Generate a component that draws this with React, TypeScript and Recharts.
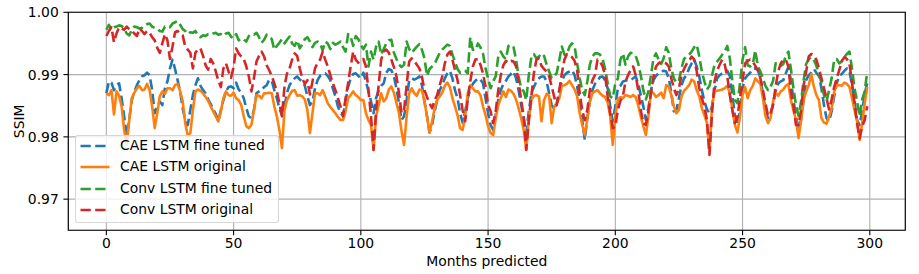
import React from 'react';
import { LineChart, Line, XAxis, YAxis, CartesianGrid, ReferenceArea, Legend } from 'recharts';

// SSIM per predicted month (index = month 0..299)
const caeFineTuned = [
  0.9870,0.9889,0.9887,0.9875,0.9883,0.9886,0.9862,0.9833,0.9801,0.9827,
  0.9859,0.9873,0.9883,0.9891,0.9897,0.9899,0.9903,0.9899,0.9875,0.9838,
  0.9849,0.9857,0.9851,0.9878,0.9889,0.9910,0.9924,0.9909,0.9891,0.9873,
  0.9846,0.9827,0.9819,0.9843,0.9867,0.9883,0.9894,0.9882,0.9875,0.9870,
  0.9860,0.9853,0.9844,0.9837,0.9825,0.9843,0.9859,0.9873,0.9880,0.9881,
  0.9878,0.9887,0.9876,0.9871,0.9862,0.9846,0.9833,0.9830,0.9843,0.9870,
  0.9873,0.9875,0.9880,0.9883,0.9892,0.9890,0.9875,0.9862,0.9846,0.9835,
  0.9849,0.9871,0.9883,0.9890,0.9894,0.9897,0.9892,0.9889,0.9882,0.9865,
  0.9851,0.9857,0.9878,0.9891,0.9898,0.9901,0.9902,0.9898,0.9891,0.9878,
  0.9865,0.9849,0.9838,0.9834,0.9857,0.9880,0.9894,0.9901,0.9902,0.9898,
  0.9894,0.9903,0.9889,0.9873,0.9857,0.9838,0.9862,0.9875,0.9882,0.9886,
  0.9903,0.9909,0.9907,0.9897,0.9878,0.9854,0.9827,0.9833,0.9859,0.9891,
  0.9894,0.9892,0.9894,0.9897,0.9883,0.9857,0.9833,0.9807,0.9819,0.9841,
  0.9859,0.9875,0.9883,0.9894,0.9902,0.9906,0.9894,0.9875,0.9862,0.9838,
  0.9823,0.9841,0.9862,0.9876,0.9885,0.9890,0.9894,0.9892,0.9886,0.9862,
  0.9838,0.9819,0.9811,0.9835,0.9860,0.9875,0.9885,0.9890,0.9897,0.9901,
  0.9905,0.9894,0.9875,0.9851,0.9830,0.9806,0.9841,0.9870,0.9880,0.9889,
  0.9894,0.9897,0.9897,0.9889,0.9870,0.9851,0.9844,0.9854,0.9875,0.9889,
  0.9899,0.9903,0.9905,0.9907,0.9899,0.9881,0.9857,0.9827,0.9795,0.9830,
  0.9857,0.9875,0.9885,0.9890,0.9896,0.9897,0.9891,0.9878,0.9849,0.9825,
  0.9849,0.9878,0.9882,0.9889,0.9890,0.9891,0.9891,0.9894,0.9897,0.9885,
  0.9867,0.9849,0.9827,0.9846,0.9875,0.9891,0.9898,0.9902,0.9905,0.9906,
  0.9905,0.9894,0.9871,0.9841,0.9843,0.9862,0.9883,0.9894,0.9899,0.9910,
  0.9918,0.9924,0.9913,0.9897,0.9875,0.9857,0.9844,0.9838,0.9849,0.9875,
  0.9894,0.9899,0.9902,0.9905,0.9906,0.9898,0.9867,0.9833,0.9819,0.9843,
  0.9878,0.9894,0.9899,0.9903,0.9909,0.9910,0.9907,0.9894,0.9870,0.9843,
  0.9830,0.9835,0.9854,0.9873,0.9886,0.9889,0.9891,0.9902,0.9912,0.9891,
  0.9859,0.9833,0.9814,0.9827,0.9859,0.9891,0.9899,0.9903,0.9909,0.9903,
  0.9898,0.9878,0.9851,0.9830,0.9825,0.9841,0.9865,0.9886,0.9898,0.9901,
  0.9906,0.9910,0.9906,0.9883,0.9857,0.9827,0.9819,0.9841,0.9870,0.9886,
];

const caeOriginal = [
  0.9870,0.9867,0.9875,0.9836,0.9873,0.9866,0.9849,0.9811,0.9788,0.9827,
  0.9862,0.9871,0.9878,0.9882,0.9875,0.9876,0.9885,0.9875,0.9849,0.9814,
  0.9838,0.9865,0.9873,0.9869,0.9878,0.9878,0.9875,0.9883,0.9885,0.9873,
  0.9857,0.9822,0.9802,0.9806,0.9843,0.9873,0.9876,0.9874,0.9870,0.9864,
  0.9858,0.9849,0.9841,0.9833,0.9825,0.9841,0.9862,0.9873,0.9867,0.9866,
  0.9871,0.9862,0.9859,0.9851,0.9833,0.9817,0.9814,0.9819,0.9843,0.9867,
  0.9866,0.9862,0.9870,0.9870,0.9871,0.9870,0.9849,0.9833,0.9811,0.9782,
  0.9843,0.9859,0.9867,0.9874,0.9875,0.9866,0.9867,0.9865,0.9860,0.9843,
  0.9806,0.9838,0.9870,0.9870,0.9867,0.9875,0.9865,0.9854,0.9848,0.9843,
  0.9838,0.9832,0.9827,0.9827,0.9841,0.9862,0.9867,0.9873,0.9867,0.9864,
  0.9859,0.9859,0.9838,0.9827,0.9819,0.9779,0.9833,0.9851,0.9870,0.9857,
  0.9862,0.9876,0.9881,0.9871,0.9854,0.9838,0.9809,0.9787,0.9833,0.9870,
  0.9878,0.9870,0.9866,0.9876,0.9875,0.9857,0.9833,0.9807,0.9825,0.9846,
  0.9859,0.9865,0.9871,0.9882,0.9887,0.9880,0.9862,0.9849,0.9835,0.9814,
  0.9811,0.9833,0.9870,0.9883,0.9878,0.9873,0.9873,0.9867,0.9849,0.9835,
  0.9817,0.9806,0.9803,0.9830,0.9851,0.9862,0.9873,0.9864,0.9876,0.9874,
  0.9869,0.9860,0.9846,0.9830,0.9811,0.9779,0.9827,0.9859,0.9866,0.9867,
  0.9865,0.9825,0.9859,0.9869,0.9866,0.9822,0.9849,0.9854,0.9862,0.9882,
  0.9883,0.9885,0.9890,0.9883,0.9876,0.9865,0.9838,0.9819,0.9803,0.9830,
  0.9857,0.9870,0.9873,0.9875,0.9870,0.9866,0.9864,0.9855,0.9833,0.9787,
  0.9833,0.9860,0.9864,0.9862,0.9867,0.9866,0.9864,0.9867,0.9864,0.9851,
  0.9833,0.9817,0.9803,0.9833,0.9873,0.9870,0.9864,0.9867,0.9871,0.9862,
  0.9883,0.9881,0.9867,0.9849,0.9838,0.9843,0.9865,0.9874,0.9878,0.9883,
  0.9892,0.9889,0.9875,0.9865,0.9846,0.9835,0.9822,0.9776,0.9849,0.9873,
  0.9874,0.9875,0.9876,0.9878,0.9882,0.9870,0.9843,0.9819,0.9807,0.9833,
  0.9867,0.9880,0.9862,0.9875,0.9882,0.9894,0.9889,0.9885,0.9862,0.9833,
  0.9822,0.9830,0.9857,0.9871,0.9866,0.9873,0.9876,0.9882,0.9885,0.9859,
  0.9843,0.9827,0.9798,0.9827,0.9859,0.9873,0.9883,0.9901,0.9881,0.9867,
  0.9859,0.9830,0.9823,0.9821,0.9833,0.9846,0.9873,0.9883,0.9883,0.9882,
  0.9887,0.9885,0.9880,0.9862,0.9843,0.9825,0.9795,0.9822,0.9854,0.9880,
];

const convFineTuned = [
  0.9972,0.9980,0.9972,0.9976,0.9977,0.9979,0.9978,0.9974,0.9966,0.9963,
  0.9972,0.9977,0.9976,0.9974,0.9975,0.9979,0.9981,0.9982,0.9977,0.9975,
  0.9974,0.9970,0.9969,0.9977,0.9975,0.9976,0.9982,0.9984,0.9986,0.9980,
  0.9973,0.9970,0.9965,0.9968,0.9967,0.9970,0.9962,0.9960,0.9963,0.9962,
  0.9965,0.9964,0.9966,0.9967,0.9964,0.9965,0.9962,0.9966,0.9967,0.9961,
  0.9958,0.9965,0.9955,0.9958,0.9956,0.9953,0.9962,0.9965,0.9964,0.9967,
  0.9960,0.9951,0.9956,0.9964,0.9961,0.9957,0.9940,0.9946,0.9951,0.9957,
  0.9950,0.9956,0.9961,0.9950,0.9946,0.9955,0.9942,0.9949,0.9957,0.9960,
  0.9953,0.9944,0.9951,0.9953,0.9950,0.9939,0.9953,0.9950,0.9941,0.9951,
  0.9948,0.9950,0.9953,0.9944,0.9937,0.9965,0.9961,0.9946,0.9962,0.9957,
  0.9948,0.9941,0.9948,0.9913,0.9937,0.9924,0.9945,0.9953,0.9932,0.9941,
  0.9950,0.9955,0.9956,0.9935,0.9925,0.9916,0.9912,0.9916,0.9953,0.9941,
  0.9935,0.9940,0.9945,0.9949,0.9940,0.9926,0.9898,0.9909,0.9913,0.9917,
  0.9926,0.9935,0.9940,0.9944,0.9948,0.9946,0.9932,0.9921,0.9909,0.9903,
  0.9905,0.9906,0.9902,0.9960,0.9940,0.9939,0.9950,0.9944,0.9934,0.9910,
  0.9894,0.9878,0.9889,0.9897,0.9929,0.9937,0.9929,0.9925,0.9946,0.9948,
  0.9944,0.9924,0.9897,0.9878,0.9873,0.9859,0.9899,0.9928,0.9933,0.9926,
  0.9929,0.9934,0.9930,0.9916,0.9905,0.9894,0.9897,0.9903,0.9924,0.9945,
  0.9932,0.9933,0.9945,0.9950,0.9946,0.9918,0.9894,0.9875,0.9867,0.9889,
  0.9916,0.9929,0.9934,0.9934,0.9932,0.9925,0.9909,0.9886,0.9865,0.9862,
  0.9886,0.9894,0.9924,0.9934,0.9916,0.9929,0.9935,0.9934,0.9930,0.9918,
  0.9899,0.9875,0.9860,0.9873,0.9899,0.9926,0.9934,0.9924,0.9917,0.9926,
  0.9944,0.9935,0.9910,0.9894,0.9887,0.9890,0.9910,0.9925,0.9929,0.9932,
  0.9937,0.9944,0.9948,0.9929,0.9905,0.9889,0.9876,0.9882,0.9899,0.9916,
  0.9921,0.9926,0.9932,0.9937,0.9946,0.9926,0.9889,0.9859,0.9854,0.9886,
  0.9924,0.9944,0.9915,0.9913,0.9916,0.9939,0.9913,0.9905,0.9894,0.9882,
  0.9875,0.9880,0.9890,0.9918,0.9918,0.9914,0.9917,0.9930,0.9937,0.9909,
  0.9878,0.9851,0.9834,0.9857,0.9891,0.9917,0.9925,0.9928,0.9924,0.9914,
  0.9902,0.9887,0.9867,0.9857,0.9875,0.9894,0.9924,0.9925,0.9918,0.9921,
  0.9928,0.9933,0.9937,0.9910,0.9878,0.9857,0.9833,0.9860,0.9873,0.9905,
];

const convOriginal = [
  0.9962,0.9970,0.9976,0.9952,0.9966,0.9976,0.9974,0.9972,0.9977,0.9973,
  0.9970,0.9966,0.9962,0.9974,0.9970,0.9965,0.9970,0.9967,0.9960,0.9955,
  0.9943,0.9935,0.9950,0.9965,0.9955,0.9925,0.9945,0.9968,0.9970,0.9966,
  0.9963,0.9945,0.9940,0.9935,0.9910,0.9935,0.9941,0.9942,0.9930,0.9915,
  0.9908,0.9925,0.9918,0.9905,0.9890,0.9880,0.9910,0.9918,0.9905,0.9895,
  0.9912,0.9942,0.9934,0.9929,0.9925,0.9913,0.9897,0.9873,0.9894,0.9921,
  0.9930,0.9937,0.9929,0.9915,0.9907,0.9898,0.9886,0.9873,0.9854,0.9833,
  0.9881,0.9902,0.9910,0.9924,0.9934,0.9930,0.9910,0.9894,0.9885,0.9891,
  0.9868,0.9889,0.9910,0.9919,0.9924,0.9937,0.9924,0.9913,0.9899,0.9886,
  0.9875,0.9862,0.9849,0.9833,0.9862,0.9886,0.9913,0.9937,0.9924,0.9919,
  0.9924,0.9925,0.9913,0.9875,0.9833,0.9779,0.9843,0.9883,0.9924,0.9937,
  0.9940,0.9935,0.9924,0.9912,0.9897,0.9870,0.9838,0.9843,0.9883,0.9921,
  0.9926,0.9921,0.9916,0.9910,0.9897,0.9875,0.9864,0.9854,0.9846,0.9859,
  0.9867,0.9883,0.9897,0.9918,0.9932,0.9937,0.9924,0.9907,0.9891,0.9867,
  0.9843,0.9825,0.9859,0.9889,0.9913,0.9924,0.9925,0.9916,0.9902,0.9881,
  0.9851,0.9841,0.9822,0.9841,0.9875,0.9899,0.9915,0.9922,0.9919,0.9922,
  0.9921,0.9913,0.9889,0.9859,0.9833,0.9779,0.9825,0.9865,0.9902,0.9924,
  0.9926,0.9914,0.9909,0.9905,0.9897,0.9881,0.9864,0.9851,0.9875,0.9902,
  0.9924,0.9933,0.9931,0.9928,0.9922,0.9907,0.9870,0.9843,0.9827,0.9843,
  0.9875,0.9891,0.9899,0.9924,0.9921,0.9913,0.9899,0.9865,0.9838,0.9814,
  0.9817,0.9843,0.9858,0.9866,0.9889,0.9899,0.9907,0.9913,0.9899,0.9875,
  0.9843,0.9822,0.9819,0.9841,0.9870,0.9897,0.9913,0.9918,0.9921,0.9919,
  0.9918,0.9913,0.9894,0.9878,0.9867,0.9878,0.9899,0.9909,0.9917,0.9922,
  0.9929,0.9924,0.9905,0.9878,0.9862,0.9849,0.9827,0.9771,0.9838,0.9889,
  0.9906,0.9916,0.9924,0.9916,0.9897,0.9867,0.9843,0.9822,0.9833,0.9862,
  0.9891,0.9918,0.9922,0.9924,0.9921,0.9914,0.9907,0.9894,0.9875,0.9854,
  0.9834,0.9838,0.9851,0.9881,0.9905,0.9918,0.9924,0.9924,0.9913,0.9873,
  0.9849,0.9819,0.9819,0.9843,0.9883,0.9905,0.9929,0.9933,0.9931,0.9924,
  0.9910,0.9894,0.9878,0.9862,0.9844,0.9860,0.9880,0.9894,0.9907,0.9922,
  0.9928,0.9925,0.9918,0.9887,0.9854,0.9822,0.9798,0.9817,0.9827,0.9849,
];

const xTicks = [0, 50, 100, 150, 200, 250, 300];
const yTicks = [0.97, 0.98, 0.99, 1.0];
const seriesNames = ['CAE LSTM fine tuned', 'CAE LSTM original', 'Conv LSTM fine tuned', 'Conv LSTM original'];
const seriesKeys = ['caeFine', 'caeOrig', 'convFine', 'convOrig'];
const seriesColors = ['#1f77b4', '#ff7f0e', '#2ca02c', '#d62728'];
const seriesDashed = [true, false, true, true];

const data = caeFineTuned.map((v, i) => ({
  month: i,
  caeFine: v,
  caeOrig: caeOriginal[i],
  convFine: convFineTuned[i],
  convOrig: convOriginal[i],
}));

const FONT = "'DejaVu Sans', sans-serif";
const DASH = '10.3 4.4';
const LW = 2.6;

const LegendBox = () => (
  <div
    style={{
      position: 'relative',
      width: 204,
      height: 88,
      background: 'rgba(255,255,255,0.8)',
      border: '1px solid rgba(204,204,204,0.8)',
      borderRadius: 3,
      boxSizing: 'border-box',
      fontFamily: FONT,
      fontSize: 13.9,
      color: '#000',
    }}
  >
    {seriesNames.map((name, i) => (
      <div key={name} style={{ position: 'absolute', left: 0, top: 10 + i * 21.3 - 10, height: 20, width: 200 }}>
        <svg width={40} height={20} style={{ position: 'absolute', left: 0, top: 0 }}>
          <line
            x1={4.5}
            x2={33.5}
            y1={10}
            y2={10}
            stroke={seriesColors[i]}
            strokeWidth={LW}
            strokeDasharray={seriesDashed[i] ? DASH : undefined}
          />
        </svg>
        <span style={{ position: 'absolute', left: 44, top: 1, whiteSpace: 'nowrap', lineHeight: '17px' }}>{name}</span>
      </div>
    ))}
  </div>
);

export default function App() {
  return (
    <div style={{ position: 'absolute', left: 0, top: 0, width: 919, height: 274, background: '#fff' }}>
      <LineChart width={919} height={274} data={data} margin={{ top: 12.3, right: 13.7, bottom: 0, left: 0 }}>
        <CartesianGrid stroke="#b0b0b0" strokeWidth={1.1} />
        <XAxis
          dataKey="month"
          type="number"
          domain={[-14.95, 313.95]}
          ticks={xTicks}
          allowDataOverflow
          interval={0}
          height={43.7}
          axisLine={false}
          tickSize={4.9}
          tickMargin={3}
          tickLine={{ stroke: '#000', strokeWidth: 1.1 }}
          tick={{ fill: '#000', fontSize: 13.9, fontFamily: FONT }}
          label={{ value: 'Months predicted', position: 'insideBottom', offset: 8, style: { fill: '#000', fontSize: 13.9, fontFamily: FONT } }}
        />
        <YAxis
          type="number"
          domain={[0.965, 1.0]}
          ticks={yTicks}
          allowDataOverflow
          interval={0}
          width={68.3}
          axisLine={false}
          tickSize={4.9}
          tickMargin={4.6}
          tickFormatter={(v: number) => v.toFixed(2)}
          tickLine={{ stroke: '#000', strokeWidth: 1.1 }}
          tick={{ fill: '#000', fontSize: 13.9, fontFamily: FONT }}
          label={{ value: 'SSIM', angle: -90, position: 'insideLeft', offset: 18.7, style: { textAnchor: 'middle', fill: '#000', fontSize: 13.9, fontFamily: FONT } }}
        />
        {seriesKeys.map((k, i) => (
          <Line
            key={k}
            type="linear"
            dataKey={k}
            name={seriesNames[i]}
            stroke={seriesColors[i]}
            strokeWidth={LW}
            strokeDasharray={seriesDashed[i] ? DASH : undefined}
            strokeLinejoin="round"
            dot={false}
            activeDot={false}
            isAnimationActive={false}
          />
        ))}
        <ReferenceArea x1={-14.95} x2={313.95} y1={0.965} y2={1.0} fill="none" stroke="#000" strokeWidth={1.1} ifOverflow="visible" />
        <Legend
          layout="vertical"
          align="center"
          verticalAlign="middle"
          content={() => <LegendBox />}
          wrapperStyle={{ position: 'absolute', left: 75, top: 135, width: 204, height: 88 }}
        />
      </LineChart>
    </div>
  );
}
